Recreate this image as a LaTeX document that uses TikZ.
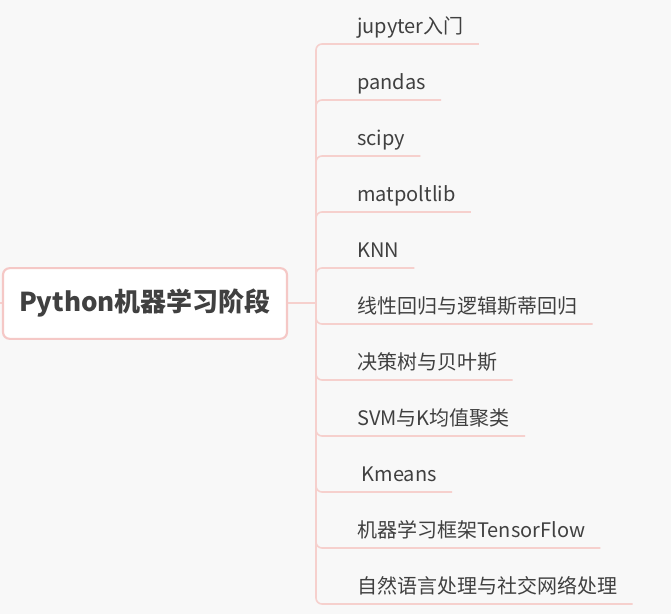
\documentclass[tikz,border=0pt]{standalone}
\usepackage{fontspec}
\newfontfamily\cjk{Noto Sans CJK SC}
\definecolor{bgcol}{HTML}{F8F8F8}
\definecolor{rootpink}{HTML}{F5C8C6}
\definecolor{linepink}{HTML}{F6D0CD}
\definecolor{textgray}{HTML}{404040}
\tikzset{
  rootbox/.style={draw=rootpink, line width=1.6pt, fill=white, rounded corners=5pt,
    minimum width=213pt, minimum height=53pt, text=textgray,
    font=\cjk\bfseries\fontsize{19.5}{22}\selectfont},
  leaf/.style={anchor=south west, inner xsep=11.25pt, inner ysep=4pt,
    text height=11pt, text depth=3.5pt, text=textgray,
    font=\cjk\fontsize{15}{18}\selectfont},
  branch/.style={draw=linepink, line width=1.2pt, rounded corners=4.5pt},
}
\begin{document}
\begin{tikzpicture}[x=0.75pt,y=-0.75pt]
    \fill[bgcol] (0,0) rectangle (671,614);
    \useasboundingbox (0,0) rectangle (671,614);

    \coordinate (parent) at (0,303);
    \coordinate (fork) at (316,303);
    \draw[branch, line width=1.8pt] (parent) -- (10,303);
    \node[rootbox] (root) at (145,303.5) {Python机器学习阶段};
    \draw[branch] (root.east |- fork) -- (fork);

    \node[leaf] (jupyter) at (342,44) {jupyter入门};
    \node[leaf] (pandas) at (342,100) {pandas};
    \node[leaf] (scipy) at (342,156) {scipy};
    \node[leaf] (matplot) at (342,212) {matpoltlib};
    \node[leaf] (knn) at (342,268) {KNN};
    \node[leaf] (regress) at (342,324) {线性回归与逻辑斯蒂回归};
    \node[leaf] (bayes) at (342,380) {决策树与贝叶斯};
    \node[leaf] (svm) at (342,436) {SVM与K均值聚类};
    \node[leaf] (kmeans) at (342,492) {\ Kmeans};
    \node[leaf] (tflow) at (342,548) {机器学习框架TensorFlow};
    \node[leaf] (nlp) at (342,604) {自然语言处理与社交网络处理};

    \draw[branch] (fork) -- (fork |- jupyter.south) -- (jupyter.south east);
    \draw[branch] (fork) -- (fork |- pandas.south) -- (pandas.south east);
    \draw[branch] (fork) -- (fork |- scipy.south) -- (scipy.south east);
    \draw[branch] (fork) -- (fork |- matplot.south) -- (matplot.south east);
    \draw[branch] (fork) -- (fork |- knn.south) -- (knn.south east);
    \draw[branch] (fork) -- (fork |- regress.south) -- (regress.south east);
    \draw[branch] (fork) -- (fork |- bayes.south) -- (bayes.south east);
    \draw[branch] (fork) -- (fork |- svm.south) -- (svm.south east);
    \draw[branch] (fork) -- (fork |- kmeans.south) -- (kmeans.south east);
    \draw[branch] (fork) -- (fork |- tflow.south) -- (tflow.south east);
    \draw[branch] (fork) -- (fork |- nlp.south) -- (nlp.south east);
\end{tikzpicture}
\end{document}
